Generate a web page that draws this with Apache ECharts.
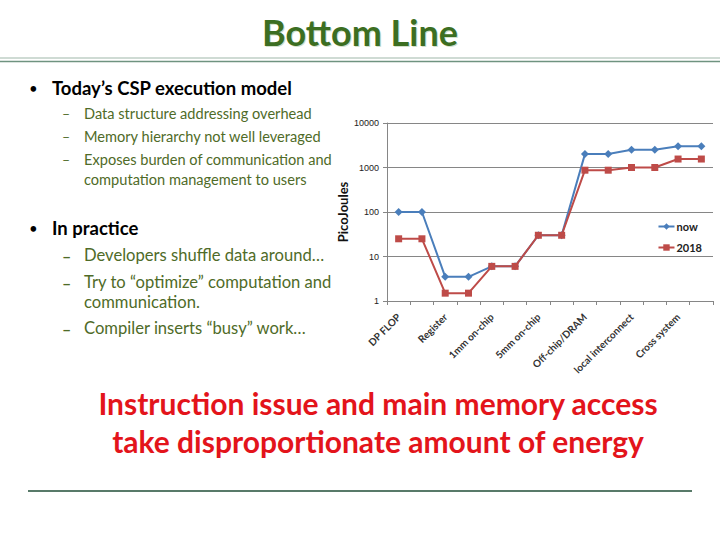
<!DOCTYPE html>
<html><head><meta charset="utf-8">
<script src="https://cdn.jsdelivr.net/npm/echarts@6/dist/echarts.min.js"></script>
<style>html,body{margin:0;padding:0;background:#fff}#c{width:720px;height:540px}</style>
</head><body><div id="c"></div>
<script>
var categories = ['DP FLOP','', 'Register','', '1mm on-chip','', '5mm on-chip','', 'Off-chip/DRAM','', 'local interconnect','', 'Cross system',''];
var nowValues = [100, 100, 3.5, 3.5, 6, 6, 30, 30, 2000, 2000, 2500, 2500, 3000, 3000];
var values2018 = [25, 25, 1.5, 1.5, 6, 6, 30, 30, 870, 870, 1000, 1000, 1550, 1550];
var seriesNames = ['now', '2018'];
var yAxisName = 'PicoJoules';

var green = '#4f6b28';
var F = 'Lato, "Liberation Sans", sans-serif';
function txt(x, y, s, size, color, weight, align) {
  return {type:'text', x:x, y:y, style:{text:s, font:(weight||'normal')+' '+size+'px '+F, fill:color, textAlign:align||'left', textVerticalAlign:'middle'}};
}
var g = [];
g.push(txt(361, 33, 'Bottom Line', 36, '#d3e0cb', 'bold', 'center'));
g.push(txt(360, 32, 'Bottom Line', 36, '#3c6e22', 'bold', 'center'));
g.push({type:'line', shape:{x1:0,y1:58,x2:720,y2:58}, style:{stroke:'#9fb8aa', lineWidth:1.2}});
g.push({type:'line', shape:{x1:0,y1:61.5,x2:720,y2:61.5}, style:{stroke:'#6f9380', lineWidth:1.6}});
g.push(txt(29, 88, '\u2022', 15, '#000', 'normal'));
g.push(txt(52, 88, 'Today\u2019s CSP execution model', 18.5, '#000', 'bold'));
var sub1 = [[113,'Data structure addressing overhead',true],[136,'Memory hierarchy not well leveraged',true],[159,'Exposes burden of communication and',true],[179,'computation management to users',false]];
sub1.forEach(function(r){ if(r[2]) g.push(txt(62, r[0], '\u2013', 14, green)); g.push(txt(84, r[0], r[1], 14.6, green)); });
g.push(txt(29, 228, '\u2022', 15, '#000', 'normal'));
g.push(txt(52, 228, 'In practice', 18.5, '#000', 'bold'));
var sub2 = [[255,'Developers shuffle data around\u2026',true],[282,'Try to \u201coptimize\u201d computation and',true],[302,'communication.',false],[328,'Compiler inserts \u201cbusy\u201d work\u2026',true]];
sub2.forEach(function(r){ if(r[2]) g.push(txt(62, r[0], '\u2013', 16, green, 'bold')); g.push(txt(84, r[0], r[1], 16.6, green)); });
g.push(txt(378, 403, 'Instruction issue and main memory access', 30, '#e3141b', 'bold', 'center'));
g.push(txt(378, 441, 'take disproportionate amount of energy', 30, '#e3141b', 'bold', 'center'));
g.push({type:'line', shape:{x1:28,y1:491,x2:692,y2:491}, style:{stroke:'#587a69', lineWidth:2}});

var chart = echarts.init(document.getElementById('c'), null, {renderer:'svg'});
chart.setOption({
  animation:false,
  backgroundColor:'#fff',
  grid:{left:387, right:7, top:123, bottom:239, containLabel:false},
  legend:{
    orient:'vertical', right:14, top:219, itemGap:10, itemWidth:16, itemHeight:8,
    backgroundColor:'#fff', padding:[2,4,2,8],
    textStyle:{fontFamily:F, fontSize:11, fontWeight:'bold', color:'#222', padding:[0,0,0,-3]},
    data:seriesNames
  },
  xAxis:{
    type:'category', data:categories, boundaryGap:true,
    axisLine:{lineStyle:{color:'#868686', width:1}},
    axisTick:{show:true, interval:0, length:4, lineStyle:{color:'#868686'}},
    axisLabel:{interval:1, rotate:45, margin:14, fontFamily:F, fontSize:10, fontWeight:'bold', color:'#333'}
  },
  yAxis:{
    type:'log', logBase:10, min:1, max:10000,
    name:yAxisName, nameLocation:'middle', nameGap:38, nameRotate:90,
    nameTextStyle:{fontFamily:F, fontSize:13, fontWeight:'bold', color:'#111'},
    axisLine:{show:true, lineStyle:{color:'#868686'}},
    axisTick:{show:true, length:4, lineStyle:{color:'#868686'}},
    axisLabel:{margin:8, fontFamily:'"Liberation Sans", sans-serif', fontSize:9, color:'#222', formatter:function(v){return String(Math.round(v));}},
    splitLine:{show:true, lineStyle:{color:'#868686', width:1}}
  },
  series:[
    {name:seriesNames[0], type:'line', data:nowValues, symbol:'diamond', symbolSize:8, color:'#4a7ebb', lineStyle:{width:2}, itemStyle:{color:'#4a7ebb'}},
    {name:seriesNames[1], type:'line', data:values2018, symbol:'rect', symbolSize:7, color:'#be4b48', lineStyle:{width:2}, itemStyle:{color:'#be4b48'}}
  ],
  graphic:g
});
</script></body></html>
